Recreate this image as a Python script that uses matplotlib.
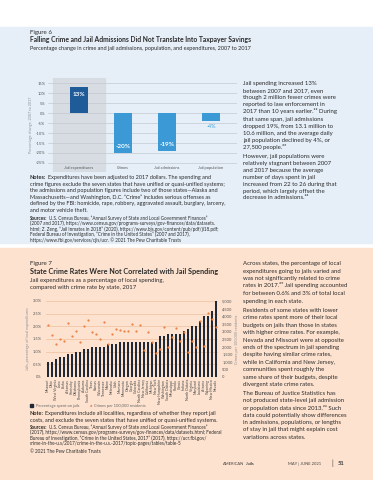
import matplotlib
matplotlib.use("Agg")
import matplotlib.pyplot as plt
from matplotlib.patches import Rectangle

W, H = 373, 480
plt.rcParams['font.family'] = ['Lato', 'DejaVu Sans']

BLUE_BG = "#e6eff8"
PEACH_BG = "#fde2cf"
DARK_BLUE = "#1f5a99"
LIGHT_BLUE = "#3b9ad6"
NAVY = "#1f2937"
ORANGE = "#e98346"
TEXT = "#2b2b2b"

# ---- Figure 6 data ----
f6_categories = ["Jail expenditures", "Crimes", "Jail admissions", "Jail population"]
f6_values = [13, -20, -19, -4]
f6_ticks = [15, 10, 5, 0, -5, -10, -15, -20, -25]

# ---- Figure 7 data ----
f7_states = [
    "Missouri", "Ohio", "West Virginia", "Iowa", "Idaho", "Arkansas", "Kentucky",
    "Oklahoma", "Pennsylvania", "Alabama", "South Carolina", "Texas", "Kansas",
    "Wisconsin", "Tennessee", "Maine", "Nebraska", "Utah", "Montana", "Minnesota",
    "Oregon", "Georgia", "Colorado", "North Carolina", "New Jersey", "California",
    "Michigan", "New York", "New Hampshire", "Washington", "South Dakota",
    "Mississippi", "Florida", "Illinois", "Indiana", "North Dakota", "Virginia",
    "Maryland", "Louisiana", "Arizona", "Wyoming", "New Mexico", "Nevada",
]
f7_jail_share = [
    0.6, 0.6, 0.7, 0.8, 0.8, 0.9, 0.9, 1.0, 1.0, 1.1, 1.1, 1.2, 1.2, 1.2, 1.2,
    1.3, 1.3, 1.3, 1.4, 1.4, 1.4, 1.4, 1.4, 1.4, 1.4, 1.4, 1.4, 1.4, 1.6, 1.6,
    1.7, 1.7, 1.7, 1.7, 1.8, 1.9, 2.0, 2.0, 2.2, 2.4, 2.4, 2.6, 3.0,
]
f7_crime_rate = [
    3420, 2760, 2170, 2480, 2390, 3530, 2700, 3000, 2280, 3380, 3750, 2980, 2830,
    2480, 3640, 2150, 2810, 3140, 3090, 3030, 3030, 3490, 3030, 3420, 1800, 2950,
    2300, 1600, 1850, 3300, 2000, 2600, 3200, 2400, 2980, 1650, 2400, 1950, 3700,
    2050, 4200, 3800, 3300,
]
f7_left_ticks = [0, 0.5, 1.0, 1.5, 2.0, 2.5, 3.0]
f7_right_ticks = [0, 500, 1000, 1500, 2000, 2500, 3000, 3500, 4000, 4500, 5000]

fig = plt.figure(figsize=(W / 100, H / 100), dpi=100)
renderer = fig.canvas.get_renderer()


def fy(y):
    return 1 - y / H


def add_ax(left, top, right, bottom):
    ax = fig.add_axes([left / W, 1 - bottom / H, (right - left) / W, (bottom - top) / H])
    ax.patch.set_alpha(0)
    for s in ax.spines.values():
        s.set_visible(False)
    return ax


def para(x, y0, dy, lines, **kw):
    for i, line in enumerate(lines):
        fig.text(x / W, fy(y0 + i * dy), line, va="baseline", ha="left", color=TEXT, **kw)


def lead(x, y, label, rest, fontsize):
    # bold lead-in word followed by regular text on the same line
    t = fig.text(x / W, fy(y), label, fontsize=fontsize, fontweight="bold", color=TEXT, va="baseline")
    bb = t.get_window_extent(renderer=renderer)
    fig.text(bb.x1 / W + 1.5 / W, fy(y), rest, fontsize=fontsize, color=TEXT, va="baseline")


# backgrounds
fig.patches.append(Rectangle((0, fy(243)), 1, (243 - 27) / H, transform=fig.transFigure,
                             color=BLUE_BG, zorder=-5))
fig.patches.append(Rectangle((0, 0), 1, fy(248), transform=fig.transFigure,
                             color=PEACH_BG, zorder=-5))

# ================= Figure 6 =================
fig.text(30 / W, fy(34), "Figure 6", fontsize=4.4, color=TEXT)
fig.text(30 / W, fy(42), "Falling Crime and Jail Admissions Did Not Translate Into Taxpayer Savings",
         fontsize=4.85, fontweight="bold", color=TEXT)
fig.text(30 / W, fy(50), "Percentage change in crime and jail admissions, population, and expenditures, 2007 to 2017",
         fontsize=3.95, color=TEXT)

ax6 = add_ax(48, 78, 237, 172)
ax6.set_xlim(-0.705, 3.59)
ax6.set_ylim(-29.5, 17.5)
ax6.axvspan(-0.6, 0.6, color="#d7dce3", zorder=0)
for t in f6_ticks:
    ax6.axhline(t, color="#c3c9d1", lw=0.5, zorder=1)
xs = list(range(len(f6_categories)))
colors = [DARK_BLUE] + [LIGHT_BLUE] * 3
ax6.bar(xs, f6_values, width=0.41, color=colors, zorder=2)
for x, v in zip(xs, f6_values):
    lab = f"{v}%"
    if abs(v) > 8:
        ty = v - 3.5 if v > 0 else v + 3.5
        ax6.text(x, ty, lab, ha="center", va="center", color="white", fontsize=4.6, fontweight="bold", zorder=3)
    else:
        ax6.text(x, v - 2.5, lab, ha="center", va="center", color=LIGHT_BLUE, fontsize=4.0, zorder=3)
    ax6.text(x, -27.3, f6_categories[x], ha="center", va="center", fontsize=2.9, color="#555555")
ax6.set_xticks([])
ax6.set_yticks(f6_ticks)
ax6.set_yticklabels([f"{t}%" for t in f6_ticks], fontsize=2.9, color="#555555")
ax6.tick_params(axis="y", length=0, pad=2)
ax6.set_ylabel("Percentage change, 2007 to 2017", fontsize=2.7, color="#8a8f96", labelpad=2)

para(243, 85, 7.1, [
    "Jail spending increased 13%",
    "between 2007 and 2017, even",
    "though 2 million fewer crimes were",
    "reported to law enforcement in",
    "2017 than 10 years earlier.²² During",
    "that same span, jail admissions",
    "dropped 19%, from 13.1 million to",
    "10.6 million, and the average daily",
    "jail population declined by 4%, or",
    "27,500 people.²³",
], fontsize=4.3)
para(243, 158, 6.9, [
    "However, jail populations were",
    "relatively stagnant between 2007",
    "and 2017 because the average",
    "number of days spent in jail",
    "increased from 22 to 26 during that",
    "period, which largely offset the",
    "decrease in admissions.²⁴",
], fontsize=4.3)

lead(30, 179, "Notes:", "Expenditures have been adjusted to 2017 dollars. The spending and", 4.0)
para(30, 185.6, 6.6, [
    "crime figures exclude the seven states that have unified or quasi-unified systems;",
    "the admissions and population figures include two of those states—Alaska and",
    "Massachusetts—and Washington, D.C. “Crime” includes serious offenses as",
    "defined by the FBI: homicide, rape, robbery, aggravated assault, burglary, larceny,",
    "and motor vehicle theft.",
], fontsize=4.0)
lead(30, 220, "Sources:", "U.S. Census Bureau, “Annual Survey of State and Local Government Finances”", 3.3)
para(30, 225.4, 5.4, [
    "(2007 and 2017), https://www.census.gov/programs-surveys/gov-finances/data/datasets.",
    "html; Z. Zeng, “Jail Inmates in 2018” (2020), https://www.bjs.gov/content/pub/pdf/ji18.pdf;",
    "Federal Bureau of Investigation, “Crime in the United States” (2007 and 2017),",
    "https://www.fbi.gov/services/cjis/ucr. © 2021 The Pew Charitable Trusts",
], fontsize=3.3)

# ================= Figure 7 =================
fig.text(30 / W, fy(265), "Figure 7", fontsize=4.4, color=TEXT)
fig.text(30 / W, fy(274), "State Crime Rates Were Not Correlated with Jail Spending",
         fontsize=5.2, fontweight="bold", color=TEXT)
para(30, 282, 7.0, [
    "Jail expenditures as a percentage of local spending,",
    "compared with crime rate by state, 2017",
], fontsize=4.3)

ax7 = add_ax(46, 301, 218, 377)
n = len(f7_states)
ax7.set_xlim(-0.5, n - 0.5)
ax7.set_ylim(0, 3.0)
for t in f7_left_ticks:
    ax7.axhline(t, color="#efc09e", lw=0.5, zorder=0)
ax7.bar(range(n), f7_jail_share, width=0.74, color=NAVY, zorder=1)
ax7.set_yticks(f7_left_ticks)
ax7.set_yticklabels(["0%", "0.5%", "1.0%", "1.5%", "2.0%", "2.5%", "3.0%"], fontsize=2.9, color="#555555")
ax7.tick_params(axis="y", length=0, pad=3)
ax7.set_xticks(range(n))
ax7.set_xticklabels(f7_states, rotation=90, fontsize=2.5, color="#444444")
ax7.tick_params(axis="x", length=0, pad=1.5)
ax7.set_ylabel("Jails, percentage of local expenditures", fontsize=2.7, color="#8a8f96", labelpad=2)

ax7r = ax7.twinx()
for s in ax7r.spines.values():
    s.set_visible(False)
ax7r.set_ylim(0, 5000)
ax7r.scatter(range(n), f7_crime_rate, s=2.6, color=ORANGE, zorder=3, linewidths=0)
ax7r.set_yticks(f7_right_ticks)
ax7r.set_yticklabels([f"{t:,}" for t in f7_right_ticks], fontsize=2.9, color="#555555")
ax7r.tick_params(axis="y", length=0, pad=3)
ax7r.set_ylabel("Crimes per 100,000 residents", fontsize=2.7, color="#8a8f96", labelpad=2)

# legend
fig.patches.append(Rectangle((30 / W, fy(407)), 3 / W, 3 / H, transform=fig.transFigure, color=NAVY))
fig.text(36 / W, fy(407), "Percentage spent on jails", fontsize=2.9, color="#666666")
fig.text(90.5 / W, fy(405.3), "●", fontsize=2.9, color=ORANGE, ha="center", va="center")
fig.text(94 / W, fy(407), "Crimes per 100,000 residents", fontsize=2.9, color="#666666")

lead(30, 415, "Note:", "Expenditures include all localities, regardless of whether they report jail", 4.0)
para(30, 421.6, 6.6, [
    "costs, and exclude the seven states that have unified or quasi-unified systems.",
], fontsize=4.0)
lead(30, 429, "Sources:", "U.S. Census Bureau, “Annual Survey of State and Local Government Finances”", 3.3)
para(30, 434.4, 5.4, [
    "(2017), https://www.census.gov/programs-surveys/gov-finances/data/datasets.html; Federal",
    "Bureau of Investigation, “Crime in the United States, 2017” (2017), https://ucr.fbi.gov/",
    "crime-in-the-u.s/2017/crime-in-the-u.s.-2017/topic-pages/tables/table-5",
], fontsize=3.3)
fig.text(30 / W, fy(453), "© 2021 The Pew Charitable Trusts", fontsize=3.3, color=TEXT)

para(243, 265, 7.5, [
    "Across states, the percentage of local",
    "expenditures going to jails varied and",
    "was not significantly related to crime",
    "rates in 2017.²⁵ Jail spending accounted",
    "for between 0.6% and 3% of total local",
    "spending in each state.",
], fontsize=4.3)
para(243, 312, 7.4, [
    "Residents of some states with lower",
    "crime rates spent more of their local",
    "budgets on jails than those in states",
    "with higher crime rates. For example,",
    "Nevada and Missouri were at opposite",
    "ends of the spectrum in jail spending",
    "despite having similar crime rates,",
    "while in California and New Jersey,",
    "communities spent roughly the",
    "same share of their budgets, despite",
    "divergent state crime rates.",
], fontsize=4.3)
para(243, 395, 7.3, [
    "The Bureau of Justice Statistics has",
    "not produced state-level jail admission",
    "or population data since 2013.²⁶ Such",
    "data could potentially show differences",
    "in admissions, populations, or lengths",
    "of stay in jail that might explain cost",
    "variations across states.",
], fontsize=4.3)

# footer
fig.text(223 / W, fy(465), "AMERICAN", fontsize=3.0, color="#444444")
fig.text(246 / W, fy(465), "Jails", fontsize=3.0, fontweight="bold", color="#444444")
fig.text(288 / W, fy(465), "MAY | JUNE 2021", fontsize=3.0, color="#444444")
fig.text(331 / W, fy(466), "|", fontsize=5.0, color="#444444")
fig.text(338 / W, fy(465), "51", fontsize=4.2, fontweight="bold", color="#444444")

fig.savefig("out.png", dpi=100)
